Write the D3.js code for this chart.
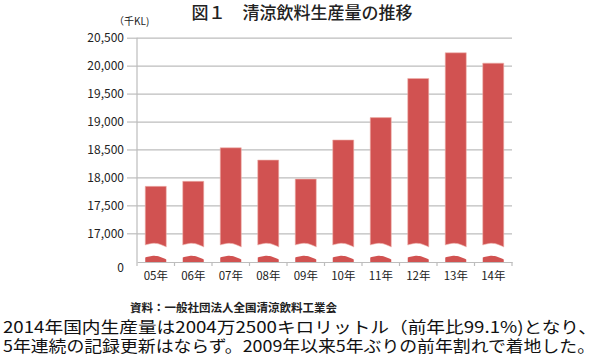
<!DOCTYPE html>
<html><head><meta charset="utf-8">
<script src="https://cdn.jsdelivr.net/npm/d3@7"></script>
<style>body{margin:0;background:#fff}text{font-family:"Noto Sans CJK JP","Noto Sans",sans-serif}</style>
</head><body><svg id="c" width="600" height="359"></svg>
<script>
const categories = ["05年","06年","07年","08年","09年","10年","11年","12年","13年","14年"];
const production = [17840,17930,18530,18310,17970,18670,19070,19770,20230,20045];
const yTicksUpper = [17000,17500,18000,18500,19000,19500,20000,20500];
const yTicksLower = [0];
const titleText = "図１　清涼飲料生産量の推移";
const unitText = "（千KL)";
const sourceText = "資料：一般社団法人全国清涼飲料工業会";
const noteLines = ["2014年国内生産量は2004万2500キロリットル（前年比99.1%)となり、",
                   "5年連続の記録更新はならず。2009年以来5年ぶりの前年割れで着地した。"];

const svg = d3.select("#c");
const L = 137, R = 512;
const x = d3.scaleBand().domain(categories).range([L, R]).paddingInner(0.44).paddingOuter(0.22);
const yU = d3.scaleLinear().domain([17000, 20500]).range([233.3, 37.7]);
const yL = d3.scaleLinear().domain([0, 1000]).range([262, 206]);
const fmt = d3.format(",");
const gridColor = "#bdbdbd";

// gridlines
const grid = svg.append("g").attr("transform", `translate(${L},0)`)
  .call(d3.axisLeft(yU).tickValues(yTicksUpper).tickSize(-(R - L)).tickFormat(""));
grid.select(".domain").remove();
grid.selectAll("line").attr("stroke", gridColor).attr("stroke-width", 1.2);

// tick labels + outer ticks
const yAx = svg.append("g").attr("transform", `translate(${L},0)`)
  .call(d3.axisLeft(yU).tickValues(yTicksUpper).tickSize(10).tickPadding(3).tickFormat(fmt));
yAx.select(".domain").remove();
yAx.selectAll("line").attr("stroke", gridColor).attr("stroke-width", 1.2);
yAx.selectAll("text").attr("font-size", 12).attr("fill", "#222")
  .style("font-family", '"Noto Sans CJK JP",sans-serif');

const yAx0 = svg.append("g").attr("transform", `translate(${L},0)`)
  .call(d3.axisLeft(yL).tickValues(yTicksLower).tickSize(0).tickPadding(13).tickFormat(fmt));
yAx0.select(".domain").remove();
yAx0.selectAll("text").attr("font-size", 12).attr("fill", "#222").attr("dy", "0.75em")
  .style("font-family", '"Noto Sans CJK JP",sans-serif');

// left axis line
svg.append("line").attr("x1", L).attr("x2", L).attr("y1", yU(20500)).attr("y2", yL(0))
  .attr("stroke", gridColor).attr("stroke-width", 1.2);

// bars with wavy break
const wave = t => -2.6 * Math.sin(Math.PI * t) + 2 * t;
const upperBase = 245, lowerBase = 257.5;
const N = 16;
function upperPath(d, i) {
  const x0 = x(categories[i]), w = x.bandwidth(), yt = yU(d);
  let p = `M${x0},${yt}L${x0 + w},${yt}`;
  for (let k = N; k >= 0; k--) { const t = k / N; p += `L${x0 + w * t},${upperBase + wave(t)}`; }
  return p + "Z";
}
function lowerPath(d, i) {
  const x0 = x(categories[i]), w = x.bandwidth(), yb = yL(0);
  let p = `M${x0},${yb}L${x0 + w},${yb}`;
  for (let k = N; k >= 0; k--) { const t = k / N; p += `L${x0 + w * t},${lowerBase + wave(t)}`; }
  return p + "Z";
}
const bars = svg.append("g");
bars.selectAll("path.up").data(production).join("path").attr("class", "up")
  .attr("d", upperPath).attr("fill", "#d15251").attr("stroke", "#eeb3ad").attr("stroke-width", 0.6);
bars.selectAll("path.lo").data(production).join("path").attr("class", "lo")
  .attr("d", lowerPath).attr("fill", "#d15251");

// x axis
const xAx = svg.append("g").attr("transform", `translate(0,${yL(0)})`)
  .call(d3.axisBottom(x).tickSize(0).tickPadding(10));
xAx.select(".domain").attr("stroke", gridColor).attr("stroke-width", 1.2);
xAx.selectAll("text").attr("font-size", 11.5).attr("fill", "#222")
  .style("font-family", '"Noto Sans CJK JP",sans-serif');
const bounds = d3.range(categories.length + 1).map(i => L + i * x.step());
svg.append("g").selectAll("line").data(bounds).join("line")
  .attr("x1", d => d).attr("x2", d => d).attr("y1", yL(0)).attr("y2", yL(0) + 4)
  .attr("stroke", gridColor).attr("stroke-width", 1.2);

// texts
svg.append("text").attr("x", 302).attr("y", 19).attr("text-anchor", "middle")
  .attr("font-size", 17).attr("font-weight", 500).attr("fill", "#222").text(titleText);
svg.append("text").attr("x", 114).attr("y", 25).attr("font-size", 10).attr("fill", "#222").text(unitText);
svg.append("text").attr("x", 130).attr("y", 312).attr("font-size", 11.5).attr("font-weight", "bold")
  .attr("fill", "#222").text(sourceText);
svg.selectAll("text.note").data(noteLines).join("text").attr("class", "note")
  .attr("x", 3).attr("y", (d, i) => 333 + i * 19).attr("font-size", 16).attr("fill", "#111")
  .attr("textLength", (d, i) => i === 0 ? 594 : 592).attr("lengthAdjust", "spacingAndGlyphs")
  .text(d => d);
</script></body></html>
